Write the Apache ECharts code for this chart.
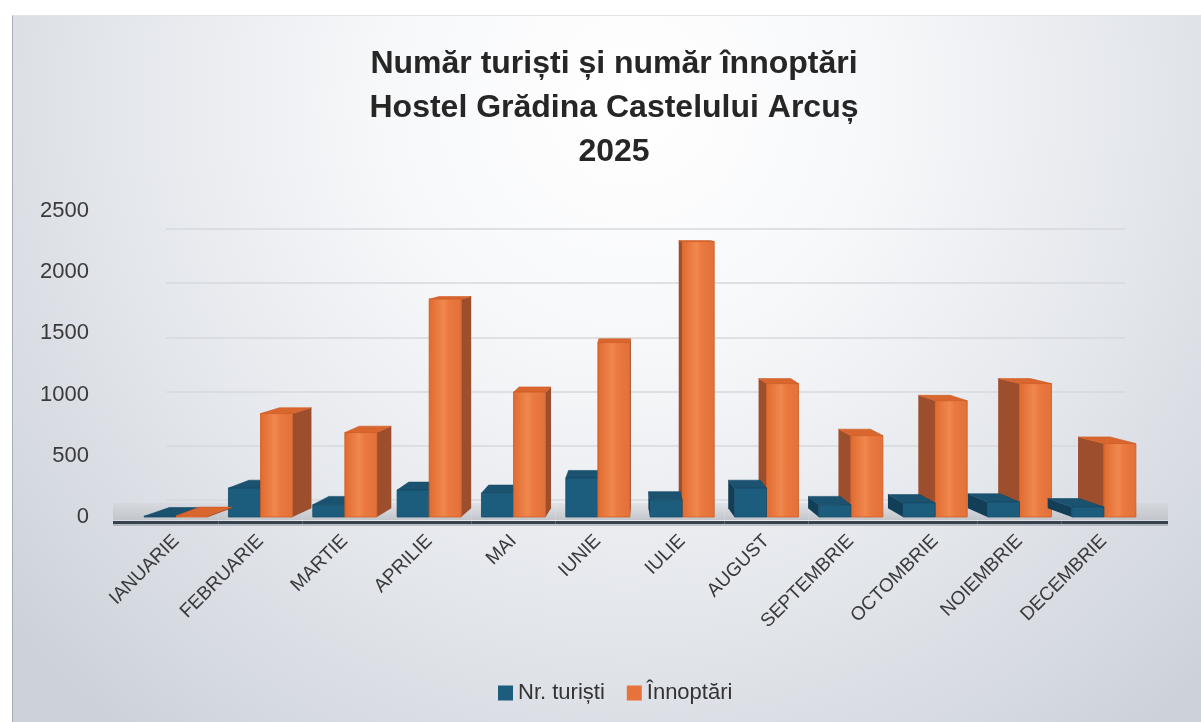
<!DOCTYPE html>
<html>
<head>
<meta charset="utf-8">
<script src="https://cdn.jsdelivr.net/npm/echarts@6/dist/echarts.min.js"></script>
<style>
  html, body { margin: 0; padding: 0; background: #ffffff; }
  #chart { position: absolute; left: 12px; top: 15px; width: 1189px; height: 707px;
           border-left: 1px solid #a9adb3; border-top: 1px solid #e2e4e7; box-sizing: border-box; }
</style>
</head>
<body>
<div id="chart"></div>
<script>
// date
var luni = ['IANUARIE', 'FEBRUARIE', 'MARTIE', 'APRILIE', 'MAI', 'IUNIE', 'IULIE',
            'AUGUST', 'SEPTEMBRIE', 'OCTOMBRIE', 'NOIEMBRIE', 'DECEMBRIE'];
var turisti = [6, 236, 100, 220, 195, 318, 140, 236, 100, 115, 122, 82];
var innoptari = [10, 845, 690, 1780, 1020, 1425, 2250, 1090, 665, 950, 1090, 600];
var yTicks = [0, 500, 1000, 1500, 2000, 2500];

var culori = [
  { front: '#1c5d7e', side: '#123f57', top: '#1a5270', line: '#164a66' },
  { front: '#e8733a', side: '#9d4e2d', top: '#d9662f', line: '#cf5a22' }
];

var myChart = echarts.init(document.getElementById('chart'));

function randeaza(s) {
  return function (params, api) {
    var i = api.value(0), v = api.value(1);
    var base = api.coord([i, 0]);
    var top = api.coord([i, v]);
    var band = api.size([1, 0])[0];
    var bw = band * 0.38;
    var x0 = base[0] - bw + s * bw, x1 = x0 + bw;
    var vx = api.getWidth() * 0.522, eyeY = 190;
    var dx = (vx - (x0 + x1) / 2) * 0.053;
    var dyT = (eyeY - top[1]) * 0.028, dyB = (eyeY - base[1]) * 0.028;
    var stanga = base[0] < vx;
    var zb = stanga ? (s === 0 ? 10 : 20) : (s === 0 ? 20 : 10);
    var c = culori[s];
    var sx = dx > 0 ? x1 : x0;
    var copii = [];

    if (s === 0) {
      // podeaua si linia axei
      var n = luni.length;
      var bx0 = base[0] - band / 2 - (params.dataIndex === 0 ? 21 : 0);
      var bx1 = base[0] + band / 2 + (params.dataIndex === n - 1 ? 22 : 0);
      copii.push({
        type: 'polygon', z2: 1,
        shape: { points: [[bx0, base[1] + 3], [bx1, base[1] + 3], [bx1, base[1] - 14], [bx0, base[1] - 14]] },
        style: { fill: new echarts.graphic.LinearGradient(0, 0, 0, 1, [
          { offset: 0, color: 'rgba(200,203,207,0.3)' }, { offset: 1, color: '#c2c5ca' }]) }
      });
      copii.push({
        type: 'rect', z2: 2,
        shape: { x: bx0, y: base[1] + 4, width: bx1 - bx0, height: 3 },
        style: { fill: '#37424d' }
      });
      copii.push({
        type: 'rect', z2: 2,
        shape: { x: bx0, y: base[1] + 7, width: bx1 - bx0, height: 2 },
        style: { fill: 'rgba(90,100,110,0.3)' }
      });
    }

    copii.push({
      type: 'polygon', z2: zb,
      shape: { points: [[sx, base[1]], [sx, top[1]], [sx + dx, top[1] + dyT], [sx + dx, base[1] + dyB]] },
      style: { fill: c.side }
    });
    copii.push({
      type: 'polygon', z2: zb,
      shape: { points: [[x0, top[1]], [x1, top[1]], [x1 + dx, top[1] + dyT], [x0 + dx, top[1] + dyT]] },
      style: { fill: c.top, stroke: c.line, lineWidth: 0.6 }
    });
    copii.push({
      type: 'rect', z2: zb + 1,
      shape: { x: x0, y: top[1], width: bw, height: base[1] - top[1] },
      style: {
        fill: s === 1 ? new echarts.graphic.LinearGradient(0, 0, 1, 0, [
          { offset: 0, color: '#e06a2f' }, { offset: 0.45, color: '#f0884f' },
          { offset: 0.6, color: '#ea7a40' }, { offset: 1, color: '#e2703a' }]) : c.front,
        stroke: c.line, lineWidth: 0.8
      }
    });
    return { type: 'group', children: copii };
  };
}

var option = {
  backgroundColor: new echarts.graphic.RadialGradient(0.52, 0.12, 1.15, [
    { offset: 0, color: '#ffffff' },
    { offset: 0.3, color: '#f7f8fa' },
    { offset: 0.65, color: '#e3e6eb' },
    { offset: 1, color: '#cdd2da' }
  ]),
  textStyle: { fontFamily: 'Liberation Sans' },
  title: {
    text: 'Număr turiști și număr înnoptări\nHostel Grădina Castelului Arcuș\n2025',
    left: 596,
    textAlign: 'center',
    top: 21,
    textStyle: { fontSize: 32, fontWeight: 'bold', lineHeight: 44, color: '#262626', fontFamily: 'Liberation Sans' }
  },
  legend: {
    data: ['Nr. turiști', 'Înnoptări'],
    left: 480,
    top: 661,
    icon: 'rect',
    itemWidth: 15,
    itemHeight: 15,
    itemGap: 22,
    textStyle: { fontSize: 22, color: '#333333', padding: [0, 0, 0, 0] }
  },
  grid: [
    { left: 121, right: 55, top: 195, bottom: 205 },
    { left: 153, right: 76, top: 213, bottom: 222 }
  ],
  xAxis: [{
    type: 'category',
    gridIndex: 0,
    data: luni,
    axisLine: { show: false },
    axisTick: { show: false },
    axisLabel: { interval: 0, rotate: 45, margin: 21, fontSize: 19, color: '#3a3a3a' }
  }, {
    type: 'category',
    gridIndex: 1,
    data: luni,
    show: false
  }],
  yAxis: [{
    type: 'value',
    gridIndex: 0,
    min: yTicks[0],
    max: yTicks[yTicks.length - 1],
    interval: 500,
    axisLine: { show: false },
    axisTick: { show: false },
    splitLine: { show: false },
    axisLabel: { fontSize: 22, color: '#3a3a3a', margin: 45, formatter: function (v) { return String(v); } }
  }, {
    type: 'value',
    gridIndex: 1,
    min: yTicks[0],
    max: yTicks[yTicks.length - 1],
    interval: 500,
    axisLine: { show: false },
    axisTick: { show: false },
    axisLabel: { show: false },
    splitLine: { lineStyle: { color: '#d6d9dd', width: 1.5 } }
  }],
  series: [{
    name: 'Nr. turiști',
    type: 'custom',
    xAxisIndex: 0,
    yAxisIndex: 0,
    itemStyle: { color: '#1c5d7e' },
    renderItem: randeaza(0),
    data: turisti.map(function (v, i) { return [i, v]; })
  }, {
    name: 'Înnoptări',
    type: 'custom',
    xAxisIndex: 0,
    yAxisIndex: 0,
    itemStyle: { color: '#e8733a' },
    renderItem: randeaza(1),
    data: innoptari.map(function (v, i) { return [i, v]; })
  }]
};

myChart.setOption(option);
</script>
</body>
</html>
